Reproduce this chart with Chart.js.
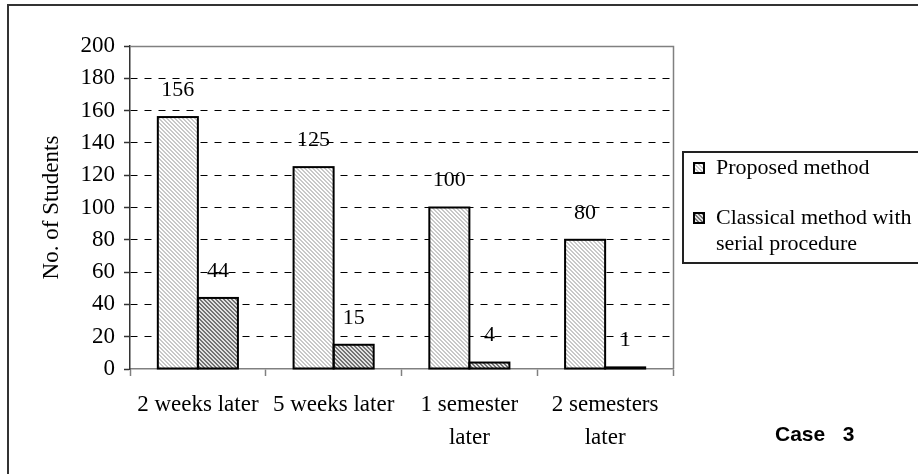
<!DOCTYPE html>
<html>
<head>
<meta charset="utf-8">
<script src="https://cdn.jsdelivr.net/npm/chart.js@4.4.1/dist/chart.umd.min.js"></script>
<style>
  html, body { margin: 0; padding: 0; background: #fff; }
  #wrap { position: relative; width: 918px; height: 474px; overflow: hidden; background: #fff; }
  #frame { position: absolute; left: 7px; top: 4px; width: 1000px; height: 600px; border: 2px solid #333; box-sizing: border-box; }
  #c { position: absolute; left: 0; top: 0; }
  #legend { position: absolute; left: 682px; top: 151px; width: 300px; height: 113px; border: 2px solid #222; box-sizing: border-box; font-family: "Liberation Serif", "Times New Roman", serif; font-size: 22px; color: #000; }
  .mk { position: absolute; left: 9px; width: 12px; height: 12px; border: 2px solid #000; box-sizing: border-box; }
  .ln { position: absolute; left: 32px; white-space: nowrap; line-height: 26px; }
  #case { position: absolute; left: 775px; top: 422px; font-family: "Liberation Sans", Arial, sans-serif; font-weight: bold; font-size: 21px; white-space: pre; color: #000; }
</style>
</head>
<body>
<div id="wrap">
  <div id="frame"></div>
  <canvas id="c" width="918" height="474"></canvas>
  <div id="legend"></div>
  <div id="case">Case   3</div>
</div>
<script>
// ---- data ----
const categories = ["2 weeks later", "5 weeks later", ["1 semester", "later"], ["2 semesters", "later"]];
const proposed = [156, 125, 100, 80];
const classical = [44, 15, 4, 1];
const seriesNames = ["Proposed method", "Classical method with serial procedure"];
const legendLines = [["Proposed method"], ["Classical method with", "serial procedure"]];
const yAxisTitle = "No. of Students";
const yMin = 0, yMax = 200, yStep = 20;

const SERIF = '"Liberation Serif", "Times New Roman", serif';

function stripePattern(bg, fg) {
  const t = document.createElement('canvas');
  t.width = 4; t.height = 4;
  const g = t.getContext('2d');
  g.fillStyle = bg; g.fillRect(0, 0, 4, 4);
  g.fillStyle = fg;
  for (let i = 0; i < 4; i++) { g.fillRect(i, i, 1, 1); g.fillRect((i + 1) % 4, i, 1, 1); }
  return document.getElementById('c').getContext('2d').createPattern(t, 'repeat');
}
const patLight = stripePattern('#ffffff', '#c8c8c8');
const patDark = stripePattern('#e2e2e2', '#737373');

// legend (HTML, real text)
const legendCss = [
  'repeating-linear-gradient(45deg, #fff 0 1.5px, #c8c8c8 1.5px 3px)',
  'repeating-linear-gradient(45deg, #e2e2e2 0 1.5px, #737373 1.5px 3px)'
];
const legendEl = document.getElementById('legend');
const itemTops = [7, 57];
legendLines.forEach((lines, i) => {
  const mk = document.createElement('div');
  mk.className = 'mk';
  mk.style.top = (itemTops[i] + 2) + 'px';
  mk.style.background = legendCss[i];
  legendEl.appendChild(mk);
  lines.forEach((txt, k) => {
    const s = document.createElement('div');
    s.className = 'ln';
    s.style.top = (itemTops[i] - 6 + k * 26) + 'px';
    s.textContent = txt;
    legendEl.appendChild(s);
  });
});

// bar outlines stroked on the bar edges (like the original), then value labels
const barOutlines = {
  id: 'barOutlines',
  afterDatasetsDraw(chart) {
    const c = chart.ctx;
    c.save();
    c.strokeStyle = '#000';
    c.lineWidth = 2;
    chart.data.datasets.forEach((ds, i) => {
      chart.getDatasetMeta(i).data.forEach(bar => {
        const p = bar.getProps(['x', 'y', 'base', 'width'], true);
        const left = p.x - p.width / 2;
        const top = Math.min(p.y, p.base);
        const h = Math.abs(p.base - p.y);
        c.strokeRect(left, top, p.width, h);
      });
    });
    c.restore();
  }
};
const valueLabels = {
  id: 'valueLabels',
  afterDatasetsDraw(chart) {
    const c = chart.ctx;
    c.save();
    c.font = '22px ' + SERIF;
    c.fillStyle = '#000';
    c.textAlign = 'center';
    c.textBaseline = 'middle';
    chart.data.datasets.forEach((ds, i) => {
      chart.getDatasetMeta(i).data.forEach((bar, j) => {
        c.fillText(String(ds.data[j]), bar.x, bar.y - 27);
      });
    });
    c.restore();
  }
};
const plotBorder = {
  id: 'plotBorder',
  afterDatasetsDraw(chart) {
    const a = chart.chartArea, c = chart.ctx;
    c.save();
    c.strokeStyle = '#808080';
    c.lineWidth = 1.5;
    c.beginPath();
    c.moveTo(a.left, a.top + 0.5);
    c.lineTo(a.right + 0.5, a.top + 0.5);
    c.lineTo(a.right + 0.5, a.bottom);
    c.stroke();
    c.restore();
  }
};

new Chart(document.getElementById('c'), {
  type: 'bar',
  data: {
    labels: categories,
    datasets: [
      { label: seriesNames[0], data: proposed, backgroundColor: patLight, borderWidth: 0 },
      { label: seriesNames[1], data: classical, backgroundColor: patDark, borderWidth: 0 }
    ]
  },
  options: {
    responsive: false,
    animation: false,
    devicePixelRatio: 1,
    layout: { padding: { left: 38, top: 46, right: 245, bottom: 0 } },
    datasets: { bar: { categoryPercentage: 0.59, barPercentage: 1.0 } },
    plugins: { legend: { display: false }, tooltip: { enabled: false } },
    scales: {
      x: {
        grid: { offset: true, drawOnChartArea: false, drawTicks: true, tickLength: 7, color: '#808080', tickColor: '#808080', tickWidth: 1.5 },
        border: { color: '#808080', width: 1.5 },
        ticks: { font: { family: SERIF, size: 23, lineHeight: 1.45 }, color: '#000', padding: 12, maxRotation: 0, autoSkip: false },
        afterFit: s => { s.height = 105; }
      },
      y: {
        min: yMin, max: yMax,
        ticks: { stepSize: yStep, font: { family: SERIF, size: 23 }, color: '#000', padding: 9 },
        grid: {
          color: ctx => (ctx.tick && (ctx.tick.value === yMin || ctx.tick.value === yMax)) ? 'rgba(0,0,0,0)' : '#000',
          lineWidth: 1, tickLength: 6, tickColor: '#333', tickWidth: 1.5, tickBorderDash: []
        },
        border: { color: '#333', width: 1.5, dash: [7, 7] },
        title: { display: true, text: yAxisTitle, font: { family: SERIF, size: 23, lineHeight: 1.2 }, color: '#000', padding: { top: 0, bottom: 0 } },
        afterFit: s => { s.width = 92; }
      }
    }
  },
  plugins: [barOutlines, valueLabels, plotBorder]
});
</script>
</body>
</html>
